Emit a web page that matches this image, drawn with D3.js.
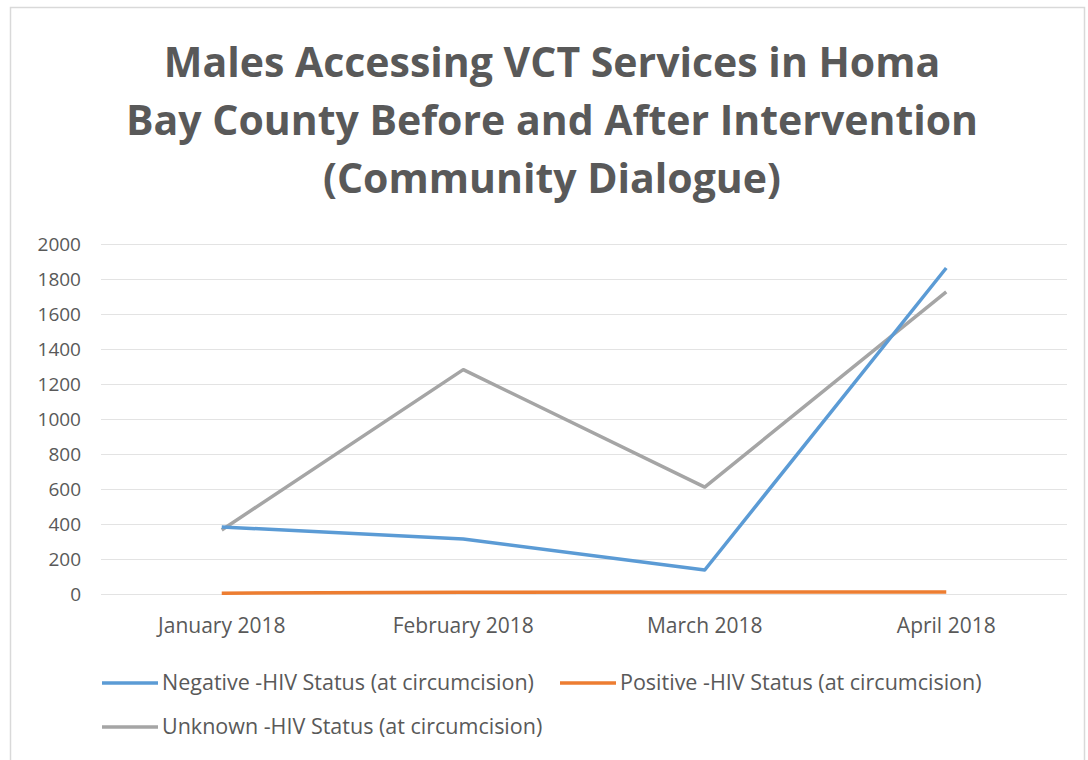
<!DOCTYPE html>
<html><head><meta charset="utf-8">
<script src="https://cdn.jsdelivr.net/npm/d3@7"></script>
<style>body{margin:0;background:#fff}svg{display:block}</style>
</head><body>
<svg id="c" width="1088" height="760"></svg>
<script>
const categories = ["January 2018", "February 2018", "March 2018", "April 2018"];
const negative = [383, 314, 137, 1863];
const positive = [5, 10, 12, 12];
const unknown = [366, 1282, 611, 1726];
const seriesNames = ["Negative -HIV Status (at circumcision)", "Positive -HIV Status (at circumcision)", "Unknown -HIV Status (at circumcision)"];
const seriesColors = ["#5B9BD5", "#ED7D31", "#A5A5A5"];
const yTicks = [0, 200, 400, 600, 800, 1000, 1200, 1400, 1600, 1800, 2000];
const titleLines = ["Males Accessing VCT Services in Homa", "Bay County Before and After Intervention", "(Community Dialogue)"];

const svg = d3.select("#c");
const font = "'Open Sans',sans-serif";
svg.append("rect").attr("x", 10.5).attr("y", 7.5).attr("width", 1074).attr("height", 760)
  .attr("fill", "#fff").attr("stroke", "#d9d9d9").attr("stroke-width", 1.5);

svg.append("g").selectAll("text").data(titleLines).join("text")
  .attr("x", 552).attr("y", (d, i) => 77 + i * 58)
  .attr("text-anchor", "middle").attr("font-family", font).attr("font-weight", "bold")
  .attr("font-size", 41).attr("fill", "#595959").text(d => d);

const x = d3.scaleBand().domain(categories).range([101, 1067]);
const y = d3.scaleLinear().domain([0, 2000]).range([594, 244]);

const yAxis = svg.append("g").attr("transform", "translate(101,0)")
  .call(d3.axisLeft(y).tickValues(yTicks).tickFormat(d3.format("d")).tickSize(-966).tickPadding(20));
yAxis.select(".domain").remove();
yAxis.selectAll(".tick line").attr("stroke", "#e3e3e3").attr("stroke-width", 1.2);
yAxis.selectAll(".tick text").attr("font-family", font).attr("font-size", 19).attr("fill", "#595959");

const xAxis = svg.append("g").attr("transform", "translate(0,594)")
  .call(d3.axisBottom(x).tickSize(0).tickPadding(24));
xAxis.select(".domain").remove();
xAxis.selectAll(".tick text").attr("font-family", font).attr("font-size", 21).attr("fill", "#595959");

const line = d3.line().x((d, i) => x(categories[i]) + x.bandwidth() / 2).y(d => y(d));
const allSeries = [negative, positive, unknown];
const order = [2, 0, 1];
order.forEach(k => {
  svg.append("path").datum(allSeries[k]).attr("d", line).attr("fill", "none")
    .attr("stroke", seriesColors[k]).attr("stroke-width", 3.5).attr("stroke-linejoin", "round");
});

const legendPos = [[102, 683], [560, 683], [102, 727]];
const lg = svg.append("g");
seriesNames.forEach((n, i) => {
  const [lx, ly] = legendPos[i];
  lg.append("line").attr("x1", lx).attr("x2", lx + 56).attr("y1", ly).attr("y2", ly)
    .attr("stroke", seriesColors[i]).attr("stroke-width", 3.5);
  lg.append("text").attr("x", lx + 60).attr("y", ly + 7).attr("font-family", font)
    .attr("font-size", 21.5).attr("fill", "#595959").text(n);
});
</script>
</body></html>
